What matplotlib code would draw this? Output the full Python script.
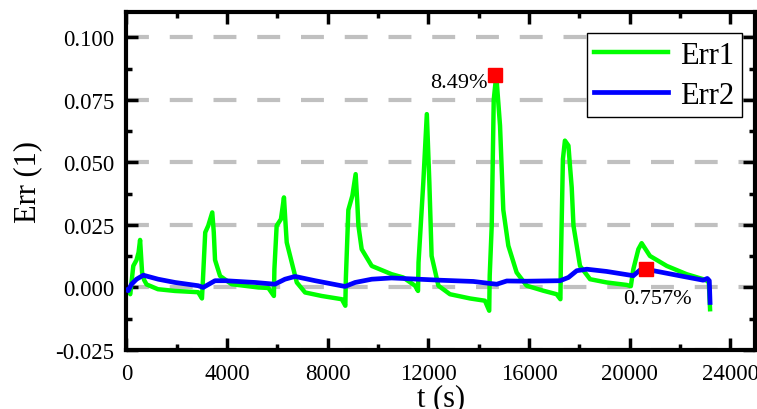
import numpy as np
import matplotlib
matplotlib.use('Agg')
import matplotlib.pyplot as plt

# Err1 (green)
err1_t = [0, 70, 150, 270, 400, 480, 540, 620, 700, 800, 1250, 1930, 2850,
          3000, 3040, 3130, 3250, 3410, 3470, 3520, 3720, 4180, 5240,
          5640, 5860, 5880, 5970, 6140, 6260, 6320, 6370, 6570, 6770, 7100, 7760, 8560,
          8700, 8720, 8820, 8980, 9110, 9170, 9220, 9350, 9750, 10540, 11000, 11470,
          11590, 11610, 11800, 11940, 12040, 12130, 12400, 12860, 13660, 14250,
          14420, 14440, 14520, 14600, 14700, 14850, 14980, 15180, 15510, 15910, 16570, 17100,
          17250, 17270, 17350, 17430, 17570, 17630, 17700, 17770, 18030, 18430, 19090, 19890,
          20050, 20150, 20350, 20480, 20810, 21480, 22270, 22930, 23070, 23150, 23200]
err1 = [0.0, -0.001, -0.0027, 0.0086, 0.011, 0.014, 0.019, 0.006, 0.003, 0.0012, -0.0007, -0.0014, -0.0019,
        -0.0044, 0.0033, 0.022, 0.0247, 0.030, 0.022, 0.011, 0.0046, 0.0013, 0.0,
        -0.0002, -0.0034, 0.0073, 0.0247, 0.0273, 0.036, 0.026, 0.018, 0.010, 0.002, -0.002, -0.0034, -0.0047,
        -0.0073, 0.0033, 0.031, 0.0367, 0.0453, 0.035, 0.0247, 0.0153, 0.0086, 0.0053, 0.004, 0.0007,
        -0.0014, 0.010, 0.042, 0.0693, 0.042, 0.0126, 0.0007, -0.0027, -0.0044, -0.0053,
        -0.0093, 0.0047, 0.0247, 0.075, 0.0849, 0.0647, 0.031, 0.0167, 0.006, 0.0007, -0.0013, -0.0027,
        -0.0047, 0.010, 0.0513, 0.0587, 0.0567, 0.0487, 0.040, 0.0247, 0.0086, 0.0033, 0.002, 0.001,
        0.0005, 0.0073, 0.0153, 0.0177, 0.0126, 0.0086, 0.0053, 0.0033, 0.0027, 0.002, -0.0087]

# Err2 (blue)
err2_t = [0, 70, 200, 400, 670, 1260, 1930, 2850, 3050, 3520, 3920, 5110, 5900, 6300, 6700,
          7500, 8690, 9090, 9750, 10540, 12460, 13790, 14450, 14720, 15120, 15910, 17240,
          17570, 17900, 18300, 19090, 20150, 20420, 20620, 20950, 22140, 22930, 23090, 23170, 23200]
err2 = [-0.001, -0.0013, 0.0013, 0.0033, 0.0049, 0.0033, 0.002, 0.0007, 0.0, 0.0027, 0.0027, 0.002,
        0.0013, 0.0033, 0.0044, 0.0027, 0.0004, 0.002, 0.0033, 0.0038, 0.0029, 0.0024, 0.0016, 0.0013,
        0.0026, 0.0025, 0.0027, 0.004, 0.0067, 0.0073, 0.0064, 0.0047, 0.007, 0.0073, 0.0067, 0.0044,
        0.0029, 0.0036, 0.0027, -0.006]

mark_t = [14650, 20650]
mark_v = [0.0849, 0.00757]
mark_txt = ['8.49%', '0.757%']

plt.rcParams['font.family'] = ['Liberation Serif', 'DejaVu Serif']

fig = plt.figure(figsize=(7.57, 4.10), dpi=100)
ax = fig.add_axes([0.1671, 0.1439, 0.8307, 0.8237])

for yv in [-0.025, 0.0, 0.025, 0.05, 0.075, 0.1]:
    ax.axhline(yv, color='#c0c0c0', lw=3, ls=(0, (5.5, 5.0)), zorder=0)

ax.plot(err1_t, err1, color='#00ff00', lw=3.2, label='Err1', zorder=2)
ax.plot(err2_t, err2, color='#0000ff', lw=3.4, label='Err2', zorder=3)
ax.plot(mark_t, mark_v, 's', color='#ff0000', ms=10, zorder=4)

ax.text(14350, 0.082, mark_txt[0], ha='right', va='center', fontsize=16)
ax.text(21100, -0.0043, mark_txt[1], ha='center', va='center', fontsize=16)

ax.set_xlim(0, 25000)
ax.set_ylim(-0.025, 0.11)
ax.set_xticks(np.arange(0, 24001, 4000))
ax.set_xticks(np.arange(2000, 25000, 4000), minor=True)
ax.set_yticks([-0.025, 0.0, 0.025, 0.05, 0.075, 0.1])
ax.set_yticks([-0.0125, 0.0125, 0.0375, 0.0625, 0.0875], minor=True)
ax.set_yticklabels(['-0.025', '0.000', '0.025', '0.050', '0.075', '0.100'])

for s in ax.spines.values():
    s.set_linewidth(3)
ax.tick_params(which='both', direction='in', top=True, right=True, width=2.5, labelsize=16.5, pad=9)
ax.tick_params(which='major', length=8.5)
ax.tick_params(which='minor', length=4.5)

ax.set_xlabel('t (s)', fontsize=22, labelpad=0)
ax.set_ylabel('Err (1)', fontsize=22, labelpad=9)

leg = ax.legend(loc='upper right', bbox_to_anchor=(0.978, 0.938), fontsize=22, frameon=True,
                fancybox=False, edgecolor='black', framealpha=1, borderpad=0.25,
                handlelength=2.4, handletextpad=0.4, labelspacing=0.35, borderaxespad=0)
leg.get_frame().set_linewidth(1.0)

fig.savefig('out.png', dpi=100)
